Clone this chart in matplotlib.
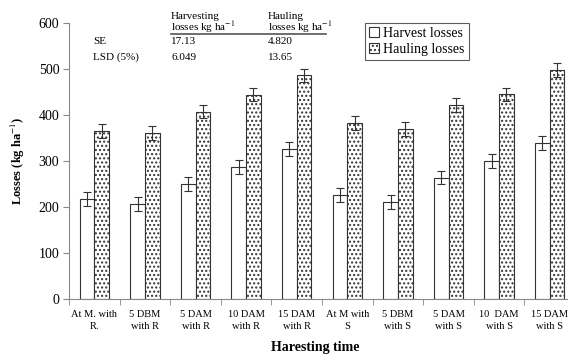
import numpy as np
import matplotlib.pyplot as plt

plt.rcParams['font.family'] = ['Liberation Serif', 'DejaVu Serif']
plt.rcParams['mathtext.fontset'] = 'stix'
plt.rcParams['hatch.linewidth'] = 1.0

# data
categories = ["At M. with\nR.", "5 DBM\nwith R", "5 DAM\nwith R", "10 DAM\nwith R",
              "15 DAM\nwith R", "At M with\nS", "5 DBM\nwith S", "5 DAM\nwith S",
              "10  DAM\nwith S", "15 DAM\nwith S"]
harvest = [218, 206, 250, 287, 326, 226, 211, 264, 300, 340]
harvest_err = [15, 15, 15, 15, 15, 15, 15, 15, 15, 15]
hauling = [365, 361, 407, 444, 486, 383, 369, 421, 445, 497]
hauling_err = [15, 15, 14, 14, 14, 15, 15, 15, 14, 15]

fig = plt.figure(figsize=(5.68, 3.56), dpi=100)
ax = fig.add_axes([69/568, 1-299/356, 506/568, 276/356])

x = np.arange(len(categories))
w = 0.29
ax.bar(x - w/2, harvest, w, color='white', edgecolor='#333333', linewidth=0.8,
       yerr=harvest_err, capsize=3, error_kw=dict(elinewidth=0.8, capthick=0.8, ecolor='#333333'),
       label='Harvest losses')
ax.bar(x + w/2, hauling, w, color='white', edgecolor='#333333', linewidth=0.8, hatch='....',
       yerr=hauling_err, capsize=3, error_kw=dict(elinewidth=0.8, capthick=0.8, ecolor='#333333'),
       label='Hauling losses')

ax.set_xlim(-0.5, len(categories) - 0.5)
ax.set_ylim(0, 600)
ax.set_yticks([0, 100, 200, 300, 400, 500, 600])
ax.set_xticks(x)
ax.set_xticklabels(categories, fontsize=7.5, linespacing=1.4)
ax.set_xticks(np.arange(-0.5, len(categories)), minor=True)
ax.tick_params(axis='x', which='major', length=0, pad=8)
ax.tick_params(axis='x', which='minor', length=4, color='#888888')
ax.tick_params(axis='y', labelsize=10, length=4, color='#888888', pad=3)
for s in ['top', 'right']:
    ax.spines[s].set_visible(False)
for s in ['left', 'bottom']:
    ax.spines[s].set_color('#888888')

ax.set_ylabel('Losses (kg ha$^{-1}$)', fontsize=9, fontweight='bold', labelpad=8)
fig.text(315/568, 1-348/356, 'Haresting time', fontsize=10, fontweight='bold',
         ha='center', va='center')

leg = ax.legend(loc='upper left', bbox_to_anchor=(296/506, 1.0), borderaxespad=0,
                fontsize=10, frameon=True, fancybox=False, edgecolor='#333333',
                handlelength=0.7, handleheight=0.7, handletextpad=0.3, borderpad=0.3,
                labelspacing=0.2)
leg.get_frame().set_linewidth(0.8)

# statistics table
fs = 8
fig.text(171/568, 1-12/356, 'Harvesting\nlosses kg ha$^{-1}$', fontsize=fs, va='top', linespacing=0.85)
fig.text(268/568, 1-12/356, 'Hauling\nlosses kg ha$^{-1}$', fontsize=fs, va='top', linespacing=0.85)
fig.add_artist(plt.Line2D([171/568, 326/568], [1-34/356, 1-34/356], color='#555555', lw=1.2))
fig.text(93/568, 1-41/356, 'SE', fontsize=fs, va='center')
fig.text(93/568, 1-57/356, 'LSD (5%)', fontsize=fs, va='center')
fig.text(171/568, 1-41/356, '17.13', fontsize=fs, va='center')
fig.text(268/568, 1-41/356, '4.820', fontsize=fs, va='center')
fig.text(171/568, 1-57/356, '6.049', fontsize=fs, va='center')
fig.text(268/568, 1-57/356, '13.65', fontsize=fs, va='center')

fig.savefig('out.png', dpi=100)
